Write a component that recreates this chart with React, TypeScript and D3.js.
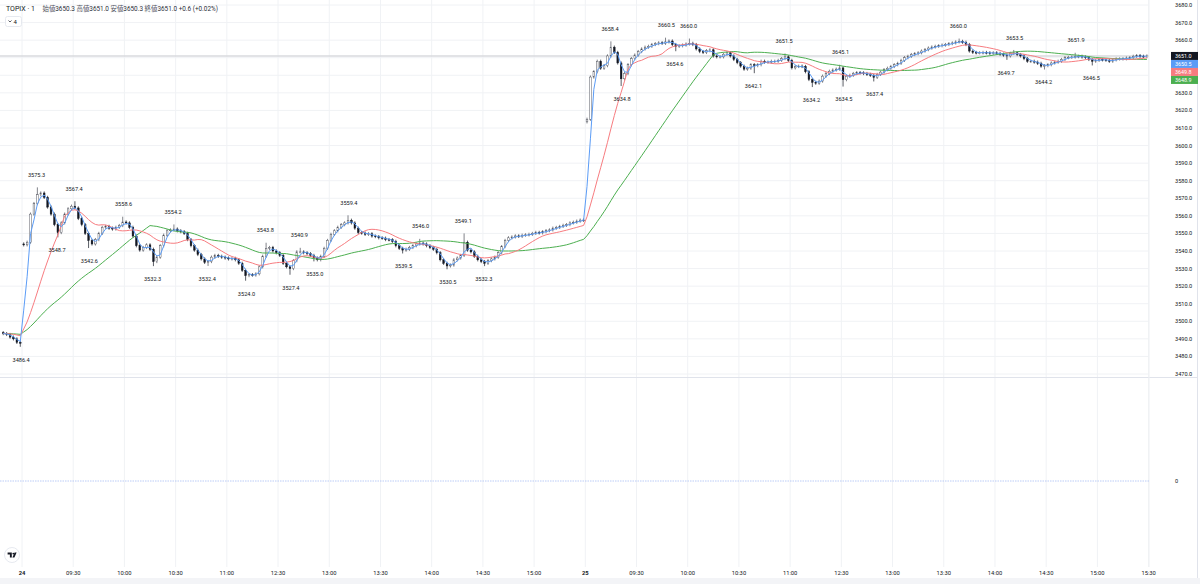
import React from 'react';
import * as d3 from 'd3';

// ---------- data ----------
const prevCloses = [3493, 3492.5, 3491, 3490, 3488, 3487.5];
const day1Closes = [
  3543.5, 3545, 3561, 3567, 3572, 3573, 3570.5, 3565, 3561, 3555,
  3550.5, 3556, 3561, 3564, 3565.5, 3564.5, 3558.5, 3555, 3550, 3546,
  3544, 3546.5, 3550, 3553.5, 3554, 3553, 3552.5, 3553.5, 3554.5, 3556.5,
  3556, 3553.5, 3548.5, 3543, 3540.5, 3542, 3543.5, 3541, 3534, 3536.5,
  3543, 3549, 3551.5, 3552, 3552.5, 3551.5, 3551, 3550, 3546.5, 3543,
  3540.5, 3538, 3535.5, 3533.5, 3534, 3536.5, 3537.5, 3537, 3536.5, 3536,
  3535.5, 3535.8, 3535, 3533, 3529, 3526, 3526.5, 3526.3, 3527, 3531,
  3537, 3541.5, 3542, 3540, 3539, 3537.5, 3533, 3531, 3530, 3534.5,
  3539.5, 3539.5, 3539, 3538.5, 3537.5, 3536, 3535, 3537, 3541.5, 3546,
  3549.5, 3551.5, 3553.5, 3555, 3556, 3557.5, 3556, 3553, 3550.5, 3550.2,
  3549.5, 3549.8, 3548.5, 3548.2, 3547.5, 3547.3, 3546.5, 3546.4, 3545.5, 3543,
  3541.5, 3540.5, 3541, 3542, 3543, 3544, 3544.5, 3544, 3543, 3542,
  3541, 3539, 3535, 3533, 3531.5, 3532, 3535, 3536, 3537.5, 3545,
  3540.5, 3539.5, 3537, 3535, 3534, 3533, 3534.5, 3535.5, 3536.5, 3539,
  3542.5, 3546, 3547.5, 3548, 3548.6, 3548.3, 3549, 3549.2, 3549.5, 3550,
  3550.6, 3550.3, 3551, 3551.6, 3552, 3553, 3553.4, 3554, 3554.6, 3555,
  3556, 3556.4, 3557, 3557.6, 3557.5,
];
const day2Closes = [
  3615, 3639, 3642, 3648, 3644, 3645.5, 3651, 3656, 3653, 3647,
  3638, 3641, 3646, 3649.5, 3651.5, 3653.5, 3655, 3656, 3656.5, 3657.5,
  3658, 3658.5, 3658.2, 3659, 3659.5, 3657.5, 3656.5, 3656.8, 3657.2, 3657.8,
  3658.2, 3657.5, 3655, 3653.5, 3653, 3654, 3654.5, 3651, 3650.5, 3650.5,
  3652, 3652.8, 3651, 3649, 3647.2, 3645.2, 3643.5, 3644, 3646, 3645.5,
  3646, 3648, 3647.5, 3647.5, 3648, 3648, 3648.5, 3649.5, 3650.5, 3648.5,
  3644.2, 3645, 3645.2, 3645, 3642, 3637.6, 3636, 3635.5, 3636.7, 3639.5,
  3641, 3642.3, 3643, 3643.5, 3644.2, 3637.5, 3639.5, 3640, 3641, 3641.5,
  3641.4, 3641, 3640.5, 3640, 3638.8, 3640.5, 3641.8, 3643.2, 3644, 3645,
  3646, 3646.8, 3648.5, 3650, 3650.8, 3651.8, 3652.3, 3652.8, 3653.8, 3654.6,
  3655.5, 3656.1, 3656.5, 3656.8, 3657.2, 3657.5, 3658, 3658.4, 3659, 3659.3,
  3658.8, 3657.5, 3653.8, 3653, 3652.8, 3652.8, 3653, 3652.8, 3652.5, 3652.8,
  3652.5, 3652, 3651.5, 3651, 3652.5, 3652.8, 3651.8, 3651, 3649.5, 3648,
  3648, 3647.5, 3646.8, 3645.2, 3645.5, 3646, 3647, 3647.5, 3648, 3649,
  3650, 3650.2, 3650.4, 3650.6, 3650.8, 3650.4, 3650, 3649, 3648, 3648.5,
  3649, 3648.8, 3648.6, 3648, 3648.8, 3649.3, 3649.3, 3649.4, 3649.8, 3650,
  3650.8, 3651.2, 3650.8, 3650.6, 3651.0,
];
const sessionOpens = [3493.5, 3544.0, 3613.5];
const sessionStartMinutes = [-12, 0, 330];

// [value, minute index]
const pivotHighs: [number, number][] = [
  [3575.3, 8], [3567.4, 30], [3558.6, 59], [3554.2, 88], [3543.8, 142],
  [3540.9, 162], [3559.4, 191], [3546.0, 233], [3549.1, 258],
  [3658.4, 344], [3660.5, 377], [3660.0, 390], [3651.5, 446], [3645.1, 479],
  [3660.0, 548], [3653.5, 581], [3651.9, 617],
];
const pivotLows: [number, number][] = [
  [3486.4, -1], [3548.7, 20], [3542.6, 39], [3532.3, 76], [3532.4, 108],
  [3524.0, 131], [3527.4, 157], [3535.0, 171], [3539.5, 223], [3530.5, 249],
  [3532.3, 270], [3634.8, 351], [3654.6, 382], [3642.1, 428], [3634.2, 462],
  [3634.5, 481], [3637.4, 499], [3649.7, 576], [3644.2, 598], [3646.5, 626],
];

const tickMinutes = [0, 30, 60, 90, 120, 150, 180, 210, 240, 270, 300, 330,
  360, 390, 420, 450, 480, 510, 540, 570, 600, 630, 660];
const tickLabels = ['24', '09:30', '10:00', '10:30', '11:00', '12:30', '13:00', '13:30',
  '14:00', '14:30', '15:00', '25', '09:30', '10:00', '10:30', '11:00', '12:30',
  '13:00', '13:30', '14:00', '14:30', '15:00', '15:30'];
const dayTickLabels = ['24', '25'];

const maPeriods = [3, 13, 38];
const maColors = ['#5b9cf6', '#f77c80', '#4caf50'];
const lastValues = [3651.0, 3650.5, 3649.8, 3648.9];
const lastColors = ['#131722', '#5b9cf6', '#f77c80', '#4caf50'];

const headerTitle = 'TOPIX · 1';
const headerNames = ['始値', '高値', '安値', '終値'];
const headerValues = ['3650.3', '3651.0', '3650.3', '3651.0'];
const headerChange = '+0.6 (+0.02%)';

// ---------- layout ----------
const W = 1200;
const H = 584;
const PLOT_R = 1149;
const PANE_SEP = 377.5;
const AXIS_TOP = 567;
const FONT = "Roboto, 'Noto Sans CJK JP', 'Noto Sans', sans-serif";
const TXT = '#131722';

const yScale = d3.scaleLinear().domain([3470, 3680]).range([374, 5]);
const xScale = d3.scaleLinear().domain([0, 660]).range([22, 1148.6]);

type Bar = { m: number; o: number; c: number; h: number; l: number };

function buildBars(): Bar[] {
  const sess = [prevCloses, day1Closes, day2Closes];
  const bars: Bar[] = [];
  sess.forEach((closes, si) => {
    closes.forEach((c, i) => {
      const o = i === 0 ? sessionOpens[si] : closes[i - 1];
      bars.push({ m: sessionStartMinutes[si] + 2 * i, o, c, h: Math.max(o, c), l: Math.min(o, c) });
    });
  });
  pivotHighs.forEach(([v, m]) => {
    const b = bars.find((b) => m >= b.m && m < b.m + 2);
    if (b) b.h = Math.max(b.h, v);
  });
  pivotLows.forEach(([v, m]) => {
    const b = bars.find((b) => m >= b.m && m < b.m + 2);
    if (b) b.l = Math.min(b.l, v);
  });
  return bars;
}

function sma(values: number[], p: number): number[] {
  return values.map((_, i) => {
    let s = 0;
    for (let k = i - p + 1; k <= i; k++) s += values[Math.max(k, 0)];
    return s / p;
  });
}

export default function App() {
  const bars = buildBars();
  const closes = bars.map((b) => b.c);
  const bx = (b: Bar) => xScale(b.m + 1);
  const mas = maPeriods.map((p) => sma(closes, p));
  const line = d3
    .line<number>()
    .x((_, i) => bx(bars[i]))
    .y((v) => yScale(v));

  const priceTicks = d3.range(3470, 3681, 10);

  // stacked last-value tags
  const tagY: number[] = [];
  lastValues.forEach((v, i) => {
    const y = yScale(v);
    tagY.push(i === 0 ? y : Math.max(y, tagY[i - 1] + 8));
  });
  const tagTop = tagY[0] - 4;
  const tagBottom = tagY[tagY.length - 1] + 4;
  const visibleTicks = priceTicks.filter((v) => {
    const y = yScale(v);
    return y < tagTop - 3.5 || y > tagBottom + 3.5;
  });

  const bodyW = 1.7;

  return (
    <svg width={W} height={H} viewBox={`0 0 ${W} ${H}`}
      style={{ position: 'absolute', left: 0, top: 0, background: '#fff' }}
      fontFamily={FONT}>
      <defs>
        <clipPath id="plotClip">
          <rect x={0} y={0} width={PLOT_R} height={PANE_SEP} />
        </clipPath>
      </defs>
      <rect x={0} y={0} width={W} height={H} fill="#ffffff" />

      {/* grid */}
      {priceTicks.map((v) => (
        <line key={'hg' + v} x1={0} x2={PLOT_R} y1={yScale(v)} y2={yScale(v)} stroke="#f0f2f5" strokeWidth={1} />
      ))}
      {tickMinutes.map((m, i) => (
        <line key={'vg' + i} x1={xScale(m)} x2={xScale(m)} y1={0} y2={AXIS_TOP} stroke="#f0f2f5" strokeWidth={1} />
      ))}

      {/* pane borders */}
      <line x1={0} x2={W - 2} y1={PANE_SEP} y2={PANE_SEP} stroke="#e0e3eb" strokeWidth={1} />
      <line x1={PLOT_R} x2={PLOT_R} y1={0} y2={AXIS_TOP} stroke="#eef0f3" strokeWidth={1} />
      <line x1={W - 2.5} x2={W - 2.5} y1={0} y2={H} stroke="#e0e3eb" strokeWidth={1} />
      <rect x={0} y={578} width={W} height={6} fill="#f3f4f7" />

      {/* current price line */}
      <line x1={0} x2={PLOT_R} y1={yScale(lastValues[0])} y2={yScale(lastValues[0])} stroke="#d8dade" strokeWidth={1.6} />

      <g clipPath="url(#plotClip)">
        {/* candles */}
        {bars.map((b, i) => {
          const up = b.c >= b.o;
          const x = bx(b);
          const yTop = yScale(Math.max(b.o, b.c));
          const yBot = yScale(Math.min(b.o, b.c));
          const h = Math.max(yBot - yTop, 0.7);
          const col = up ? '#4a4d57' : '#131722';
          return (
            <g key={'c' + i}>
              <line x1={x} x2={x} y1={yScale(b.h) - 1.6} y2={yScale(b.l) + 1.6} stroke={col} strokeWidth={0.7} />
              <rect x={x - bodyW / 2} y={yTop} width={bodyW} height={h}
                fill={up ? '#ffffff' : '#131722'} stroke={col} strokeWidth={0.45} />
            </g>
          );
        })}
        {/* moving averages */}
        {[2, 1, 0].map((k) => (
          <path key={'ma' + k} d={line(mas[k]) || ''} fill="none" stroke={maColors[k]} strokeWidth={1} />
        ))}
      </g>

      {/* pivot labels */}
      {pivotHighs.map(([v, m], i) => (
        <text key={'ph' + i} x={xScale(m + 0.5)} y={yScale(v) - 14} fontSize={5.6} fill={TXT}
          textAnchor="middle" dominantBaseline="central">{v.toFixed(1)}</text>
      ))}
      {pivotLows.map(([v, m], i) => (
        <text key={'pl' + i} x={xScale(m + 0.5)} y={yScale(v) + 14.5} fontSize={5.6} fill={TXT}
          textAnchor="middle" dominantBaseline="central">{v.toFixed(1)}</text>
      ))}

      {/* lower pane zero line */}
      <line x1={0} x2={PLOT_R} y1={481} y2={481} stroke="#a9bff5" strokeWidth={0.8} strokeDasharray="1.5 1" />
      <text x={1175} y={481} fontSize={5.6} fill={TXT} dominantBaseline="central">0</text>

      {/* price axis */}
      {visibleTicks.map((v) => (
        <text key={'pt' + v} x={1175} y={yScale(v)} fontSize={5.6} fill={TXT} dominantBaseline="central">
          {v.toFixed(1)}
        </text>
      ))}
      {lastValues.map((v, i) => (
        <g key={'tag' + i}>
          <rect x={1171} y={tagY[i] - 4} width={27} height={8} fill={lastColors[i]} />
          <text x={1175} y={tagY[i]} fontSize={5.4} fill="#ffffff" dominantBaseline="central">{v.toFixed(1)}</text>
        </g>
      ))}

      {/* time axis */}
      {tickMinutes.map((m, i) => (
        <text key={'tt' + i} x={xScale(m)} y={572.5} fontSize={5.8} fill={TXT} textAnchor="middle"
          dominantBaseline="central" fontWeight={dayTickLabels.includes(tickLabels[i]) ? 700 : 400}>
          {tickLabels[i]}
        </text>
      ))}

      {/* header */}
      <text x={6} y={11} fontSize={7} fill={TXT}>{headerTitle}</text>
      <text x={42.5} y={11} fontSize={6.4} fill="#2a2e39">
        {headerNames.map((n, i) => (
          <tspan key={'hn' + i}>
            <tspan fill="#50535e">{n}</tspan>
            <tspan>{headerValues[i]} </tspan>
          </tspan>
        ))}
        <tspan>{headerChange}</tspan>
      </text>
      <rect x={5.5} y={16.5} width={16} height={10} rx={2} fill="#fff" stroke="#e0e3eb" strokeWidth={0.8} />
      <path d="M8.5 20.5 L10 22 L11.5 20.5" fill="none" stroke={TXT} strokeWidth={0.7} />
      <text x={13.5} y={21.7} fontSize={6} fill={TXT} dominantBaseline="central">4</text>

      {/* TradingView logo */}
      <circle cx={12} cy={555} r={7.5} fill="#ffffff" stroke="#e0e3eb" strokeWidth={0.8} />
      <path d="M7.6 552.6 h4.2 v4.8 h-1.9 v-3 h-2.3 z" fill={TXT} />
      <circle cx={13.3} cy={553.6} r={0.9} fill={TXT} />
      <path d="M14.6 552.6 h2 l-2.2 4.8 h-2 z" fill={TXT} />
    </svg>
  );
}
